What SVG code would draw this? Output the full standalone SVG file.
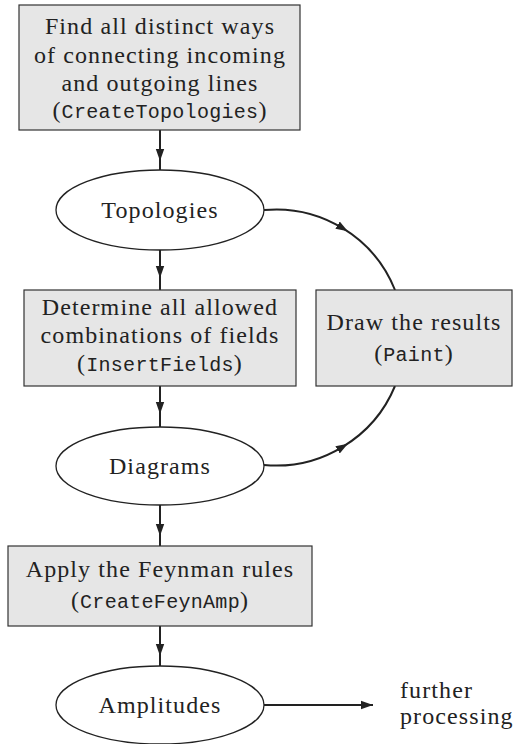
<svg xmlns="http://www.w3.org/2000/svg" width="514" height="744" viewBox="0 0 514 744">
<defs>
<style>
.box{fill:#e6e6e6;stroke:#333;stroke-width:1.2}
.ell{fill:#fff;stroke:#222;stroke-width:1.3}
.t{font-family:'Liberation Serif';font-size:24px;letter-spacing:1.1px;fill:#222;text-anchor:middle}
.s{text-anchor:start}
.m{font-family:'Liberation Mono';font-size:20px;letter-spacing:0.3px}
.c{fill:none;stroke:#222;stroke-width:2}
</style>
<marker id="ahm" viewBox="0 0 10 10" refX="5" refY="5" markerWidth="12" markerHeight="12" markerUnits="userSpaceOnUse" orient="auto">
<path d="M0,1.5 L10,5 L0,8.5 Z" fill="#222"/>
</marker>
<marker id="ahe" viewBox="0 0 10 10" refX="10" refY="5" markerWidth="12" markerHeight="12" markerUnits="userSpaceOnUse" orient="auto">
<path d="M0,1.5 L10,5 L0,8.5 Z" fill="#222"/>
</marker>
</defs>
<g id="connectors">
<path class="c" d="M160,130 L160,155 L160,170" marker-mid="url(#ahm)"/>
<path class="c" d="M160,250 L160,272 L160,290" marker-mid="url(#ahm)"/>
<path class="c" d="M160,386 L160,408 L160,427" marker-mid="url(#ahm)"/>
<path class="c" d="M160,505 L160,530 L160,546" marker-mid="url(#ahm)"/>
<path class="c" d="M160,626 L160,650 L160,666" marker-mid="url(#ahm)"/>
<path class="c" d="M264,210 A128,128 0 0 1 342.7,228.2 A128,128 0 0 1 395,290" marker-mid="url(#ahm)"/>
<path class="c" d="M264,465 A128,128 0 0 0 342.7,446.8 A128,128 0 0 0 395,386" marker-mid="url(#ahm)"/>
<path class="c" d="M264,705 L373,705" marker-end="url(#ahe)"/>
</g>
<g id="create-topologies">
<rect class="box" x="19" y="5" width="281" height="125"/>
<text class="t" x="160" y="34">Find all distinct ways</text>
<text class="t" x="160" y="63">of connecting incoming</text>
<text class="t" x="160" y="91">and outgoing lines</text>
<text class="t" x="160" y="118">(<tspan class="m">CreateTopologies</tspan>)</text>
</g>
<g id="topologies">
<ellipse class="ell" cx="160" cy="210" rx="104" ry="40"/>
<text class="t" x="160" y="218">Topologies</text>
</g>
<g id="insert-fields">
<rect class="box" x="24" y="290" width="272" height="96"/>
<text class="t" x="160" y="315">Determine all allowed</text>
<text class="t" x="160" y="343">combinations of fields</text>
<text class="t" x="160" y="371">(<tspan class="m">InsertFields</tspan>)</text>
</g>
<g id="paint">
<rect class="box" x="316" y="290" width="196" height="96"/>
<text class="t" x="414" y="330">Draw the results</text>
<text class="t" x="414" y="361">(<tspan class="m">Paint</tspan>)</text>
</g>
<g id="diagrams">
<ellipse class="ell" cx="160" cy="466" rx="104" ry="39"/>
<text class="t" x="160" y="474">Diagrams</text>
</g>
<g id="create-feynamp">
<rect class="box" x="8" y="546" width="304" height="80"/>
<text class="t" x="160" y="577">Apply the Feynman rules</text>
<text class="t" x="160" y="608">(<tspan class="m">CreateFeynAmp</tspan>)</text>
</g>
<g id="amplitudes">
<ellipse class="ell" cx="160" cy="705" rx="104" ry="39"/>
<text class="t" x="160" y="713">Amplitudes</text>
</g>
<g id="further-processing">
<text class="t s" x="400" y="698">further</text>
<text class="t s" x="400" y="724">processing</text>
</g>
</svg>
